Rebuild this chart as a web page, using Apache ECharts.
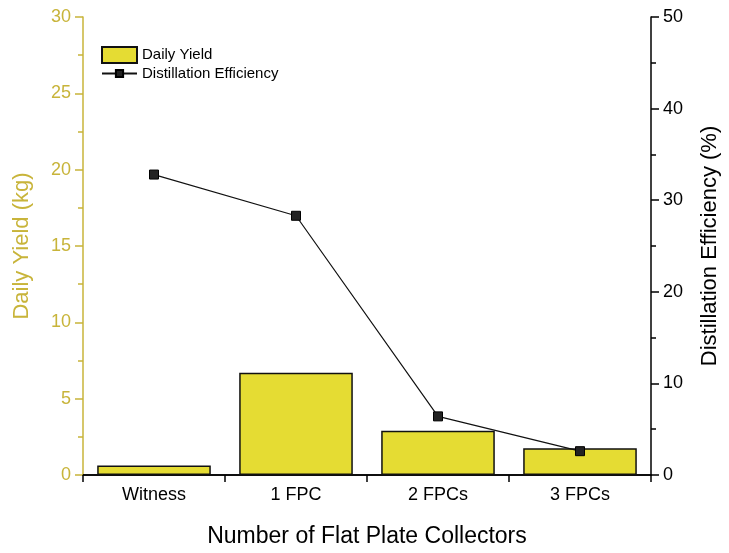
<!DOCTYPE html>
<html><head><meta charset="utf-8">
<script src="https://cdn.jsdelivr.net/npm/echarts@6/dist/echarts.min.js"></script>
<style>html,body{margin:0;padding:0;background:#fff}#c{width:729px;height:553px}</style>
</head><body><div id="c"></div>
<script>
const categories = ['Witness', '1 FPC', '2 FPCs', '3 FPCs'];
const dailyYield = [0.62, 6.7, 2.9, 1.75];
const efficiency = [32.8, 28.3, 6.4, 2.6];
const leftTicks = [0, 5, 10, 15, 20, 25, 30];
const rightTicks = [0, 10, 20, 30, 40, 50];

const olive = '#c8b43a';
const font = 'Liberation Sans, Arial, sans-serif';
const chart = echarts.init(document.getElementById('c'));
chart.setOption({
  animation: false,
  textStyle: { fontFamily: font },
  grid: { left: 83, right: 70, top: 17, bottom: 73 },
  legend: [
    {
      left: 96, top: 41, orient: 'vertical',
      itemWidth: 35, itemHeight: 16,
      textStyle: { fontSize: 15, color: '#000', fontFamily: font },
      data: [{ name: 'Daily Yield', icon: 'rect' }]
    },
    {
      left: 96, top: 61, orient: 'vertical',
      itemWidth: 35, itemHeight: 9,
      textStyle: { fontSize: 15, color: '#000', fontFamily: font },
      data: [{ name: 'Distillation Efficiency' }]
    }
  ],
  xAxis: [
    {
      type: 'category', data: categories, position: 'bottom',
      name: 'Number of Flat Plate Collectors', nameLocation: 'middle', nameGap: 50,
      nameTextStyle: { fontSize: 23, color: '#000', fontFamily: font },
      axisLine: { lineStyle: { color: '#000', width: 1.5 } },
      axisTick: { alignWithLabel: true, length: 7, lineStyle: { color: '#000', width: 1.5 } },
      axisLabel: { fontSize: 18, color: '#000', margin: 11 }
    },
    {
      type: 'category', data: categories, position: 'top',
      axisLine: { show: true, lineStyle: { color: '#000', width: 1.5 } },
      axisTick: { show: false }, axisLabel: { show: false }
    },
    {
      type: 'category', data: categories, position: 'bottom',
      axisLine: { show: false },
      axisTick: { show: true, length: 7, lineStyle: { color: '#000', width: 1.5 } },
      axisLabel: { show: false }
    }
  ],
  yAxis: [
    {
      type: 'value', min: leftTicks[0], max: leftTicks[leftTicks.length - 1], interval: 5,
      name: 'Daily Yield (kg)', nameLocation: 'middle', nameGap: 50, nameRotate: 90,
      nameTextStyle: { fontSize: 22, color: olive, fontFamily: font },
      axisLine: { show: true, lineStyle: { color: olive, width: 1.5 } },
      axisTick: { show: true, length: 8, lineStyle: { color: olive, width: 1.5 } },
      minorTick: { show: true, splitNumber: 2, length: 5, lineStyle: { color: olive, width: 1.5 } },
      axisLabel: { fontSize: 18, color: olive, margin: 12 },
      splitLine: { show: false }
    },
    {
      type: 'value', min: rightTicks[0], max: rightTicks[rightTicks.length - 1], interval: 10,
      position: 'right',
      name: 'Distillation Efficiency (%)', nameLocation: 'middle', nameGap: 48, nameRotate: 90,
      nameTextStyle: { fontSize: 22, color: '#000', fontFamily: font },
      axisLine: { show: true, lineStyle: { color: '#000', width: 1.5 } },
      axisTick: { show: true, length: 8, lineStyle: { color: '#000', width: 1.5 } },
      minorTick: { show: true, splitNumber: 2, length: 5, lineStyle: { color: '#000', width: 1.5 } },
      axisLabel: { fontSize: 18, color: '#000', margin: 12 },
      splitLine: { show: false }
    }
  ],
  series: [
    {
      name: 'Daily Yield', type: 'bar', data: dailyYield, xAxisIndex: 0, yAxisIndex: 0,
      barCategoryGap: '20%',
      itemStyle: { color: '#e5dc33', borderColor: '#111', borderWidth: 1.5 }
    },
    {
      name: 'Distillation Efficiency', type: 'line', data: efficiency, xAxisIndex: 0, yAxisIndex: 1,
      symbol: 'rect', symbolSize: 9,
      lineStyle: { color: '#111', width: 1.2 },
      itemStyle: { color: '#222', borderColor: '#000', borderWidth: 1 }
    }
  ]
});
</script></body></html>
